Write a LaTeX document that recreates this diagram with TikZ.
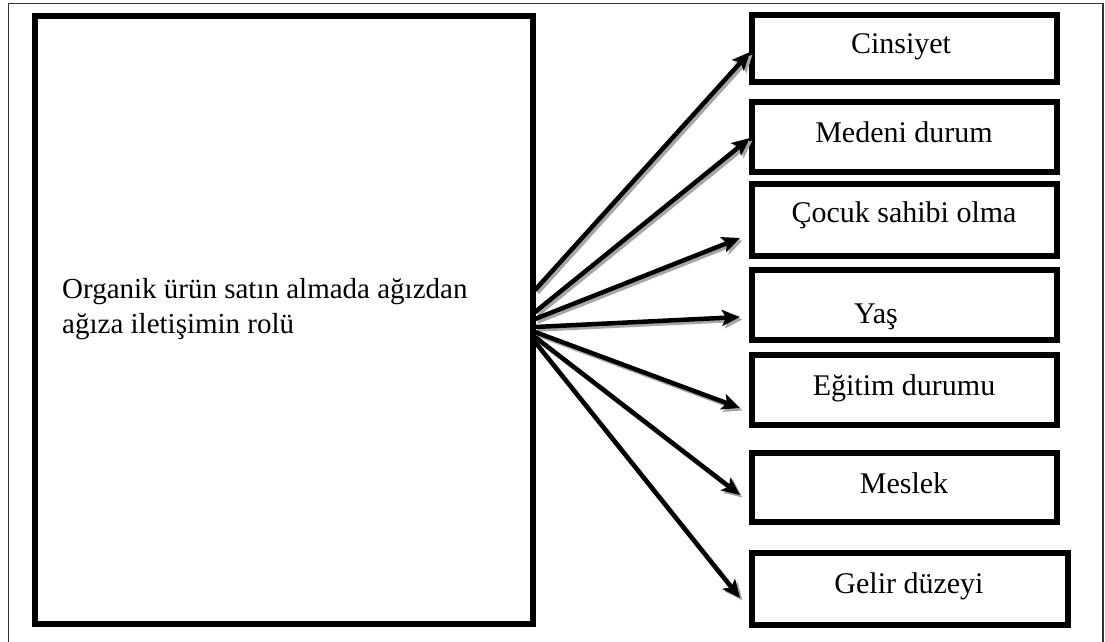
\documentclass[tikz,border=0pt]{standalone}
\usepackage{fontspec}
\setmainfont{Liberation Serif}
\usetikzlibrary{arrows.meta}
\begin{document}
\begin{tikzpicture}[x=1pt,y=-1pt,
  frame/.style={draw=black!80,line width=1.5pt},
  bigbox/.style={draw,line width=6pt,rectangle,inner sep=0pt},
  sidebox/.style={draw,line width=6pt,rectangle,inner sep=0pt},
  lbl/.style={anchor=base,inner sep=0pt,font=\fontsize{30}{35}\selectfont},
  conn/.style={line width=4.5pt,-{Stealth[length=18pt,width=16pt,inset=4pt]}},
  connshadow/.style={conn,draw=black!35,fill=black!35}
]
\useasboundingbox (0,0) rectangle (1105,641);
\fill[white] (0,0) rectangle (1105,641);
% outer frame (bottom edge cut off)
\draw[frame] (8.5,645) -- (8.5,3.5) -- (1103,3.5) -- (1103,645);

% main box
\node[bigbox,minimum width=498pt,minimum height=608pt] (main) at (284,320) {};
\node[anchor=base west,inner sep=0pt,align=left,font=\fontsize{29}{35}\selectfont] (maintext) at (62,333)
  {Organik ürün satın almada ağızdan\\ağıza iletişimin rolü};

% side boxes
\node[sidebox,minimum width=305pt,minimum height=67pt] (b1) at (904.5,48.5) {};
\node[sidebox,minimum width=305pt,minimum height=70pt] (b2) at (904.5,137) {};
\node[sidebox,minimum width=305pt,minimum height=72pt] (b3) at (904.5,220) {};
\node[sidebox,minimum width=305pt,minimum height=70pt] (b4) at (904.5,305) {};
\node[sidebox,minimum width=305pt,minimum height=70pt] (b5) at (904.5,390) {};
\node[sidebox,minimum width=305pt,minimum height=69pt] (b6) at (904.5,487.5) {};
\node[sidebox,minimum width=316pt,minimum height=72pt] (b7) at (910,589) {};

\node[lbl] (t1) at (901,53) {Cinsiyet};
\node[lbl] (t2) at (904,142) {Medeni durum};
\node[lbl] (t3) at (904,222) {Çocuk sahibi olma};
\node[lbl] (t4) at (876,323) {Yaş};
\node[lbl] (t5) at (904,395) {Eğitim durumu};
\node[lbl] (t6) at (904,493) {Meslek};
\node[lbl] (t7) at (909,593) {Gelir düzeyi};

% connector start and end points
\coordinate (s1) at (535,290);
\coordinate (s2) at (535,312);
\coordinate (s3) at (535,319);
\coordinate (s4) at (535,327);
\coordinate (s5) at (535,332);
\coordinate (s6) at (535,337);
\coordinate (s7) at (535,342);
\coordinate (e1) at (750,52);
\coordinate (e2) at (750,138);
\coordinate (e3) at (740,238);
\coordinate (e4) at (740,317);
\coordinate (e5) at (740,408);
\coordinate (e6) at (740,495);
\coordinate (e7) at (740,598);

\foreach \i in {1,...,7}
  \draw[connshadow] ([xshift=2.5pt,yshift=-2.5pt]s\i) -- ([xshift=2.5pt,yshift=-2.5pt]e\i);
\foreach \i in {1,...,7} \draw[conn] (s\i) -- (e\i);
\end{tikzpicture}
\end{document}
